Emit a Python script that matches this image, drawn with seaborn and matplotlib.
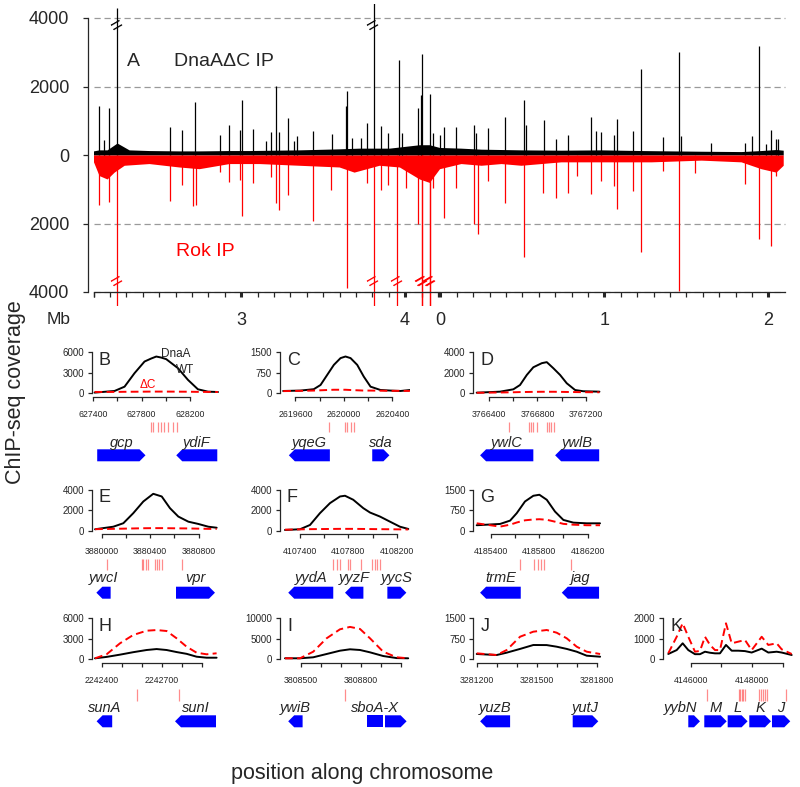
import numpy as np
import pandas as pd
import matplotlib
matplotlib.use('Agg')
import matplotlib.pyplot as plt
import seaborn as sns

sns.set_theme(style='ticks', rc={'axes.linewidth': 0.9,
                                 'xtick.major.width': 0.9,
                                 'ytick.major.width': 0.9})
plt.rcParams['font.family'] = ['Liberation Sans', 'DejaVu Sans']

GENOME = 4.2156   # Mb
ORIGIN = 2.1      # genome position at the left end of panel A

# ---- panel A: peaks (Mb, coverage) ----
dnaA_pos = [2.134, 2.165, 2.195, 2.2426, 2.565, 2.638, 2.721, 2.872, 2.925, 2.992,
            3.004, 3.073, 3.154, 3.183, 3.215, 3.232, 3.285, 3.323, 3.341, 3.441,
            3.557, 3.640, 3.646, 3.679, 3.730, 3.768, 3.8087, 3.852, 3.895, 3.963,
            3.984, 4.079, 4.096, 4.105, 4.152, 4.173, 4.213, 0.022, 0.097, 0.207,
            0.219, 0.289, 0.394, 0.508, 0.520, 0.630, 0.705, 0.778, 0.920, 0.947,
            0.981, 1.059, 1.077, 1.171, 1.223, 1.357, 1.453, 1.467, 1.650, 1.856,
            1.898, 1.945, 1.986, 2.016, 2.045, 2.061]
dnaA_val = [1430, 440, 1360, 4300, 816, 728, 1534, 583, 884, 728,
            1612, 757, 418, 660, 2020, 670, 1078, 418, 553, 699,
            612, 1427, 1874, 505, 485, 942, 7900, 854, 631, 2770,
            650, 1360, 1750, 2960, 1780, 630, 583, 825, 825, 874,
            631, 796, 1097, 1602, 874, 1020, 476, 573, 1117, 699,
            670, 583, 1049, 699, 2525, 515, 3010, 553, 359, 359,
            553, 3185, 320, 728, 456, 456]

rok_pos = [2.134, 2.171, 2.195, 2.2426, 2.565, 2.638, 2.707, 2.724, 2.872, 2.925,
           2.992, 3.004, 3.073, 3.183, 3.215, 3.232, 3.285, 3.441, 3.549, 3.646,
           3.768, 3.8087, 3.852, 3.895, 3.953, 4.004, 4.079, 4.100, 4.103, 4.149,
           4.152, 4.173, 0.022, 0.097, 0.207, 0.228, 0.289, 0.394, 0.508, 0.626,
           0.705, 0.778, 0.835, 0.920, 0.981, 1.059, 1.077, 1.176, 1.223, 1.357,
           1.453, 1.555, 1.856, 1.945, 2.016, 2.045]
rok_val = [1456, 630, 1359, 6000, 1330, 874, 1485, 1456, 485, 777,
           728, 1777, 806, 631, 1408, 1602, 1165, 1913, 1020, 3884,
           825, 6000, 1020, 874, 6000, 950, 2020, 6000, 6000, 6000,
           6000, 950, 1825, 950, 2020, 2311, 757, 1388, 2990, 1097,
           1243, 1097, 612, 1146, 757, 903, 1583, 1049, 2845, 466,
           3980, 515, 854, 2457, 2651, 612]

# background level of the coverage tracks
dnaA_bg_pos = [2.100, 2.134, 2.183, 2.244, 2.317, 2.439, 2.622, 2.744, 2.927, 3.049,
               3.354, 3.598, 3.720, 3.904, 4.087, 4.148, 4.210, 0.125, 0.248, 0.491,
               0.735, 0.979, 1.223, 1.590, 1.833, 1.955, 2.046, 2.090]
dnaA_bg_val = [120, 150, 150, 350, 150, 130, 120, 120, 130, 130,
               150, 180, 200, 200, 300, 300, 220, 200, 170, 150,
               140, 150, 130, 110, 100, 130, 160, 140]
rok_bg_pos = [2.100, 2.134, 2.183, 2.226, 2.287, 2.439, 2.622, 2.744, 2.927, 3.110,
              3.354, 3.598, 3.689, 3.842, 3.965, 4.087, 4.148, 4.210, 0.125, 0.248,
              0.370, 0.491, 0.735, 0.979, 1.285, 1.590, 1.833, 1.955, 2.046, 2.090]
rok_bg_val = [200, 600, 700, 500, 300, 250, 350, 400, 250, 250,
              300, 350, 500, 300, 350, 700, 800, 400, 250, 300,
              250, 300, 200, 200, 200, 150, 200, 400, 500, 300]

# ---- panels B-K: position (bp), DnaA WT and DnaA dC coverage ----
b_pos = [627411, 627576, 627659, 627741, 627824, 627879, 627921, 627962, 628003, 628100, 628183, 628265, 628348, 628431]
b_wt = [100, 340, 970, 2940, 4650, 5090, 5380, 5230, 5000, 3680, 1960, 590, 240, 190]
b_dc = [200, 200, 220, 230, 240, 250, 250, 250, 250, 240, 230, 210, 200, 190]
b_motif = [627875, 627895, 627935, 627960, 627985, 628020, 628060, 628090]
b_genes = [('gcp', 627433, 627832, '+'), ('ydiF', 628086, 628425, '-')]

c_pos = [2619498, 2619641, 2619751, 2619807, 2619862, 2619917, 2619972, 2620013, 2620055, 2620110, 2620164, 2620220, 2620302, 2620385, 2620468, 2620545]
c_wt = [85, 100, 150, 305, 673, 1040, 1287, 1346, 1287, 1040, 611, 243, 121, 100, 85, 120]
c_dc = [80, 90, 100, 110, 120, 130, 130, 130, 120, 110, 100, 100, 95, 90, 90, 85]
c_motif = [2619875, 2620009, 2620029, 2620057, 2620084]
c_genes = [('yqeG', 2619545, 2619884, '-'), ('sda', 2620234, 2620376, '+')]

d_pos = [3766298, 3766491, 3766601, 3766656, 3766712, 3766766, 3766836, 3766877, 3766931, 3766987, 3767042, 3767111, 3767179, 3767312]
d_wt = [60, 160, 390, 810, 1790, 2540, 2940, 3040, 2450, 1790, 980, 320, 200, 160]
d_dc = [50, 80, 100, 120, 130, 140, 150, 150, 150, 140, 130, 120, 110, 100]
d_motif = [3766561, 3766731, 3766747, 3766767, 3766795, 3766878, 3766897, 3766914, 3766933, 3767372]
d_genes = [('ywlC', 3766326, 3766766, '-'), ('ywlB', 3766946, 3767310, '-')]

e_pos = [3879945, 3880096, 3880179, 3880261, 3880344, 3880426, 3880496, 3880564, 3880633, 3880716, 3880798, 3880881, 3880950]
e_wt = [140, 390, 730, 1710, 2850, 3600, 3340, 2200, 1380, 880, 660, 390, 290]
e_dc = [150, 180, 200, 220, 240, 250, 250, 240, 230, 220, 200, 180, 170]
e_motif = [3880041, 3880331, 3880345, 3880365, 3880386, 3880441, 3880460, 3880476, 3880496, 3880661]
e_genes = [('ywcI', 3879956, 3880074, '-'), ('vpr', 3880614, 3880936, '+')]

f_pos = [4107276, 4107400, 4107483, 4107565, 4107648, 4107731, 4107772, 4107840, 4107923, 4107979, 4108061, 4108144, 4108226, 4108295]
f_wt = [70, 140, 560, 1710, 2690, 3340, 3410, 3020, 2200, 1770, 1380, 880, 390, 170]
f_dc = [100, 130, 150, 160, 170, 180, 180, 180, 170, 160, 150, 140, 130, 120]
f_motif = [4107675, 4107708, 4107731, 4107799, 4107813, 4107904, 4107998, 4108021, 4108040, 4108061]
f_genes = [('yydA', 4107303, 4107675, '-'), ('yyzF', 4107772, 4107924, '-'), ('yycS', 4108122, 4108279, '+')]

g_pos = [4185284, 4185477, 4185560, 4185615, 4185683, 4185752, 4185802, 4185863, 4185931, 4186000, 4186083, 4186193, 4186303]
g_wt = [200, 247, 369, 642, 1069, 1278, 1315, 1131, 700, 394, 295, 270, 270]
g_dc = [270, 150, 220, 300, 380, 410, 420, 400, 330, 250, 220, 200, 200]
g_motif = [4185642, 4185760, 4185793, 4185812, 4185840, 4186064]
g_genes = [('trmE', 4185312, 4185648, '-'), ('jag', 4185987, 4186295, '-')]

h_pos = [2242367, 2242425, 2242492, 2242558, 2242625, 2242675, 2242725, 2242775, 2242825, 2242875, 2242925, 2242975]
h_wt = [146, 350, 680, 1040, 1360, 1500, 1360, 1060, 800, 380, 234, 234]
h_dc = [146, 732, 2341, 3556, 4185, 4280, 4141, 3073, 1844, 966, 732, 878]
h_motif = [2242578, 2242787]
h_genes = [('sunA', 2242375, 2242453, '-'), ('sunI', 2242767, 2242972, '-')]

i_pos = [3808422, 3808497, 3808563, 3808630, 3808697, 3808747, 3808797, 3808847, 3808913, 3808980, 3809038]
i_wt = [244, 244, 488, 1290, 2100, 2440, 2270, 1700, 800, 300, 244]
i_dc = [244, 244, 1850, 5120, 7320, 7900, 7400, 5120, 1850, 490, 244]
i_motif = [3808722]
i_genes = [('ywiB', 3808438, 3808510, '-'), ('sboA-X', 3808833, 3808913, 'box', 3808871),
           ('', 3808922, 3809030, '+')]

j_pos = [3281200, 3281300, 3281350, 3281417, 3281483, 3281550, 3281600, 3281650, 3281700, 3281750, 3281817]
j_wt = [194, 157, 243, 380, 523, 520, 461, 380, 278, 132, 95]
j_dc = [218, 157, 340, 827, 1010, 1072, 973, 768, 461, 278, 194]
j_motif = []
j_genes = [('yuzB', 3281217, 3281367, '-'), ('yutJ', 3281680, 3281808, '+')]

k_pos = [4145270, 4145544, 4145739, 4145922, 4146140, 4146303, 4146466, 4146629, 4146792, 4146954,
         4147150, 4147336, 4147550, 4147769, 4147987, 4148313, 4148528, 4148801, 4148964, 4149290]
k_wt = [260, 450, 780, 450, 250, 250, 370, 320, 290, 290, 700, 420, 420, 400, 330, 520, 330, 370, 330, 210]
k_dc = [293, 1100, 1756, 1100, 370, 410, 1100, 700, 450, 450, 1756, 780, 860, 940, 450, 1100, 700, 780, 488, 260]
k_motif = [4146531, 4147560, 4147600, 4147665, 4147720, 4147780, 4148212, 4148275, 4148340, 4148420, 4148500, 4149107]
k_genes = [('yybN', 4145922, 4146303, '+', 4145668), ('M', 4146443, 4147173, '+'), ('L', 4147205, 4147853, '+'),
           ('K', 4147909, 4148616, '+'), ('J', 4148648, 4149244, '+')]

panels = [
    dict(key='B', row=0, col=0, pos=b_pos, wt=b_wt, dc=b_dc, motif=b_motif, genes=b_genes,
         window=(627390, 628464), ymax=6000, ticks=(627400, 628200, 200), every=2),
    dict(key='C', row=0, col=1, pos=c_pos, wt=c_wt, dc=c_dc, motif=c_motif, genes=c_genes,
         window=(2619472, 2620546), ymax=1500, ticks=(2619600, 2620400, 200), every=2),
    dict(key='D', row=0, col=2, pos=d_pos, wt=d_wt, dc=d_dc, motif=d_motif, genes=d_genes,
         window=(3766270, 3767344), ymax=4000, ticks=(3766400, 3767200, 200), every=2),
    dict(key='E', row=1, col=0, pos=e_pos, wt=e_wt, dc=e_dc, motif=e_motif, genes=e_genes,
         window=(3879920, 3880994), ymax=4000, ticks=(3880000, 3880800, 200), every=2),
    dict(key='F', row=1, col=1, pos=f_pos, wt=f_wt, dc=f_dc, motif=f_motif, genes=f_genes,
         window=(4107235, 4108309), ymax=4000, ticks=(4107400, 4108200, 200), every=2),
    dict(key='G', row=1, col=2, pos=g_pos, wt=g_wt, dc=g_dc, motif=g_motif, genes=g_genes,
         window=(4185256, 4186330), ymax=1500, ticks=(4185400, 4186200, 200), every=2),
    dict(key='H', row=2, col=0, pos=h_pos, wt=h_wt, dc=h_dc, motif=h_motif, genes=h_genes,
         window=(2242352, 2243002), ymax=6000, ticks=(2242400, 2242900, 100), every=3),
    dict(key='I', row=2, col=1, pos=i_pos, wt=i_wt, dc=i_dc, motif=i_motif, genes=i_genes,
         window=(3808397, 3809047), ymax=10000, ticks=(3808500, 3809000, 100), every=3),
    dict(key='J', row=2, col=2, pos=j_pos, wt=j_wt, dc=j_dc, motif=j_motif, genes=j_genes,
         window=(3281183, 3281833), ymax=1500, ticks=(3281200, 3281800, 100), every=3),
    dict(key='K', row=2, col=3, pos=k_pos, wt=k_wt, dc=k_dc, motif=k_motif, genes=k_genes,
         window=(4145098, 4149333), ymax=2000, ticks=(4146000, 4149000, 1000), every=2),
]

W, H = 800, 787
fig = plt.figure(figsize=(8, 7.87), dpi=100)


def px_axes(left, top, right, bottom):
    return fig.add_axes([left / W, 1 - bottom / H, (right - left) / W, (bottom - top) / H])


def ftext(x, y, s, **kw):
    fig.text(x / W, 1 - y / H, s, **kw)


def to_plot(g):
    g = np.asarray(g, dtype=float)
    return np.where(g >= ORIGIN, g - ORIGIN, g + GENOME - ORIGIN)


# ================= panel A =================
ax = px_axes(88, 4.3, 790, 305.7)
x0 = 93.5
ax.set_xlim((88 - x0) / 164, (790 - x0) / 164)
ax.set_ylim(-4400, 4400)
ax.hlines([-4000, -2000, 2000, 4000], 0, GENOME, colors='#9a9a9a',
          linestyles=(0, (5, 3)), lw=0.9, zorder=0)

ax.fill_between(to_plot(dnaA_bg_pos), 0, dnaA_bg_val, color='black', lw=0)
ax.vlines(to_plot(dnaA_pos), 0, dnaA_val, color='black', lw=0.9)
ax.fill_between(to_plot(rok_bg_pos), 0, -np.array(rok_bg_val), color='red', lw=0)
ax.vlines(to_plot(rok_pos), 0, -np.array(rok_val), color='red', lw=0.9)

for p, v in zip(dnaA_pos, dnaA_val):
    if v > 4000:
        ax.text(float(to_plot(p)), 3790, '=', rotation=30, ha='center', va='center',
                fontsize=15, color='black')
for p, v in zip(rok_pos, rok_val):
    if v > 4000:
        ax.text(float(to_plot(p)), -3690, '=', rotation=30, ha='center', va='center',
                fontsize=15, color='red')

for s in ['top', 'right']:
    ax.spines[s].set_visible(False)
ax.spines['left'].set_bounds(-4000, 4000)
ax.spines['bottom'].set_position(('data', -4000))
ax.spines['bottom'].set_bounds(0, GENOME)
ax.set_yticks([-4000, -2000, 0, 2000, 4000])
ax.set_yticklabels(['4000', '2000', '0', '2000', '4000'])
ax.tick_params(axis='y', length=3.6, pad=10, labelsize=13)
minor = np.round(np.r_[np.arange(2.1, 4.25, 0.1), np.arange(0.0, 2.15, 0.1)], 1)
ax.set_xticks(to_plot(minor), minor=True)
ax.set_xticks(to_plot([3, 4, 0, 1, 2]))
ax.set_xticklabels(['3', '4', '0', '1', '2'])
ax.tick_params(axis='x', which='both', length=3.6, width=0.9, direction='out')
ax.tick_params(axis='x', which='major', width=2.2, pad=11, labelsize=13)

ftext(133, 62, 'A', fontsize=14, ha='center', va='center')
ftext(174, 62, 'DnaA\u0394C IP', fontsize=14, ha='left', va='center')
ftext(176, 251, 'Rok IP', fontsize=14, ha='left', va='center', color='red')
ftext(59, 320, 'Mb', fontsize=12.5, ha='center', va='center')

# ================= panels B-K =================
zero_px = [393.3, 530.7, 659.3]
col_px = [92, 280, 473.3, 663]
motif_rows = [(29, 39), (28, 39), (30, 42)]
label_rows = [54, 51, 52.5]

for p in panels:
    z = zero_px[p['row']]
    left = col_px[p['col']]
    ymax = p['ymax']
    x_lo, x_hi = p['window']
    ax = px_axes(left, z - 46, left + 130, z + 3.5)
    ax.set_xlim(x_lo, x_hi)
    ax.set_ylim(-3.5 / 41 * ymax, 46 / 41 * ymax)
    df = pd.DataFrame({'pos': p['pos'], 'wt': p['wt'], 'dc': p['dc']})
    sns.lineplot(data=df, x='pos', y='wt', color='black', lw=1.4, ax=ax)
    sns.lineplot(data=df, x='pos', y='dc', color='red', lw=1.4, ax=ax,
                 linestyle=(0, (4, 2.2)))
    ax.set_xlabel('')
    ax.set_ylabel('')
    for s in ['top', 'right']:
        ax.spines[s].set_visible(False)
    t0, t1, step = p['ticks']
    ticks = np.arange(t0, t1 + 1, step)
    ax.spines['left'].set_bounds(0, ymax)
    ax.spines['bottom'].set_bounds(t0, t1)
    ax.set_yticks([0, ymax // 2, ymax])
    ax.set_yticklabels([str(v) for v in [0, ymax // 2, ymax]])
    ax.set_xticks(ticks)
    ax.set_xticklabels([str(t) if i % p['every'] == 0 else '' for i, t in enumerate(ticks)])
    ax.tick_params(axis='y', length=3.2, pad=2.5, labelsize=7)
    ax.tick_params(axis='x', length=3.2, pad=6, labelsize=6.3)
    ftext(left + 7, z - 33, p['key'], fontsize=13, ha='left', va='center')

    # gene / motif track
    tax = px_axes(left, z + 20, left + 130, z + 72)
    tax.set_xlim(x_lo, x_hi)
    tax.set_ylim(72, 20)
    tax.axis('off')
    mt, mb = motif_rows[p['row']]
    if p['motif']:
        tax.vlines(p['motif'], mt, mb, color='red', lw=0.9, alpha=0.45)
    head = 6 * (x_hi - x_lo) / 130
    top, bot = 56, 68
    mid = (top + bot) / 2
    for g in p['genes']:
        name, s, e, strand = g[:4]
        if strand == '+':
            xs = [s, e - head, e, e - head, s]
            ys = [top, top, mid, bot, bot]
        elif strand == '-':
            xs = [e, s + head, s, s + head, e]
            ys = [top, top, mid, bot, bot]
        else:
            xs = [s, e, e, s]
            ys = [top, top, bot, bot]
        tax.fill(xs, ys, color='#0000ff', lw=0)
        lx = g[4] if len(g) > 4 else (s + e) / 2
        if name:
            tax.text(lx, label_rows[p['row']], name, style='italic', fontsize=10.5,
                     ha='center', va='baseline')

# annotations in B
ftext(176, 354, 'DnaA', fontsize=8.5, ha='center', va='center')
ftext(185, 370, 'WT', fontsize=8.5, ha='center', va='center')
ftext(147.5, 385, '\u0394C', fontsize=8.5, ha='center', va='center', color='red')

ftext(15.5, 392, 'ChIP-seq coverage', fontsize=15.5, rotation=90, ha='center', va='center')
ftext(362, 773, 'position along chromosome', fontsize=15.5, ha='center', va='center')

fig.savefig('out.png', dpi=100)
